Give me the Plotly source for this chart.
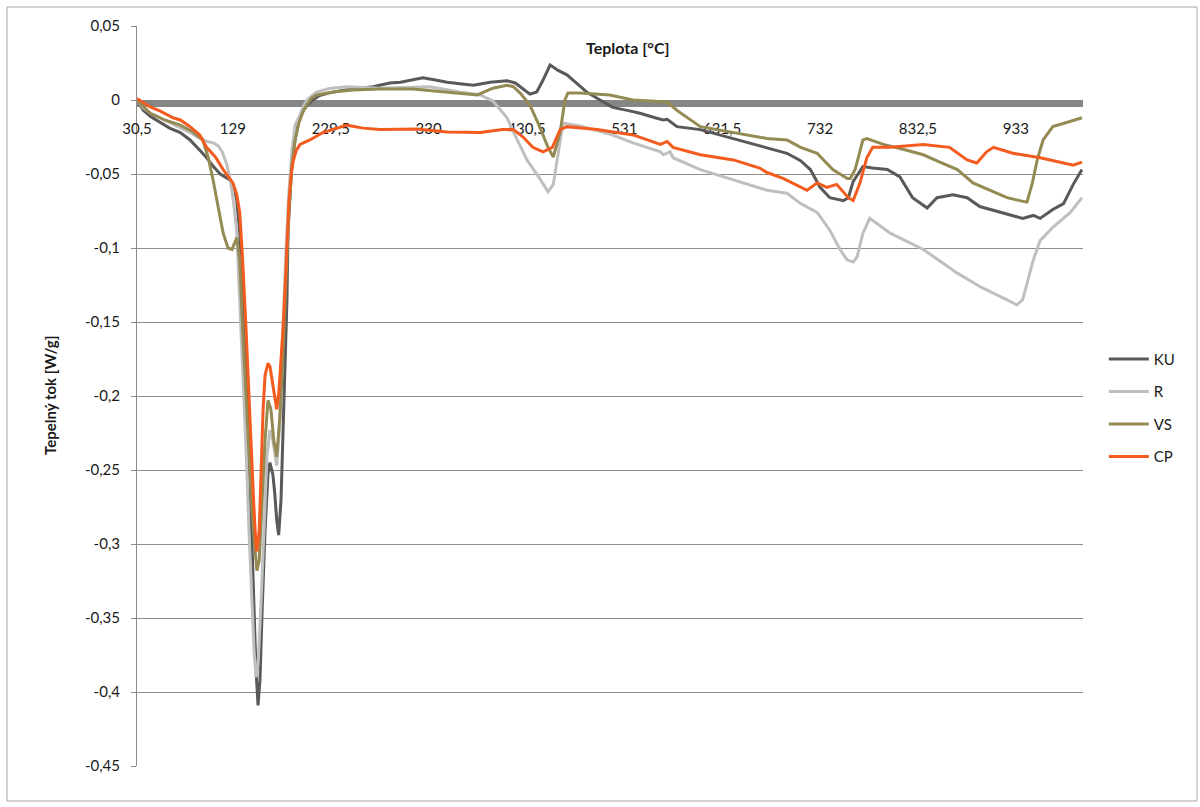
import plotly.graph_objects as go

# DSC curves: heat flow vs. temperature for four samples
ku_t = [30.5, 37, 44, 54, 64, 75, 85, 95, 102, 109, 116, 126, 131, 133, 136, 139, 142.5, 145.5,
        148.6, 150.7, 152.7, 154.8, 156.8, 158.9, 162, 165, 167, 170, 172, 174, 176, 178.4, 179.4,
        181.5, 182.5, 184.5, 185.6, 187.6, 189.7, 192.8, 196.9, 201, 206, 211, 218, 229, 246, 273,
        290, 301, 324, 337, 349, 362, 376, 393, 410.5, 419, 424, 434, 441, 447.5, 454.7, 463, 472,
        482, 493, 506, 519, 534, 547, 562.5, 571, 575, 585, 609, 643, 677.5, 698, 712, 722, 732,
        742, 756, 761, 766, 776, 786, 801, 814, 827, 842, 852, 868.5, 883, 896, 917, 930, 940, 951,
        958, 971, 982, 992, 1001]
ku_v = [0, -0.007, -0.011, -0.015, -0.019, -0.022, -0.027, -0.034, -0.039, -0.045, -0.050, -0.054,
        -0.061, -0.068, -0.090, -0.135, -0.182, -0.236, -0.297, -0.345, -0.385, -0.409, -0.392,
        -0.347, -0.291, -0.253, -0.245, -0.253, -0.266, -0.284, -0.294, -0.270, -0.245, -0.203,
        -0.178, -0.135, -0.088, -0.061, -0.041, -0.027, -0.0135, -0.007, -0.003, 0, 0.003, 0.005,
        0.007, 0.009, 0.0115, 0.012, 0.015, 0.0135, 0.012, 0.011, 0.010, 0.012, 0.013, 0.0115,
        0.009, 0.004, 0.0054, 0.0135, 0.0236, 0.020, 0.017, 0.011, 0.005, 0, -0.005, -0.007,
        -0.009, -0.012, -0.0135, -0.013, -0.018, -0.020, -0.026, -0.032, -0.036, -0.041, -0.047,
        -0.059, -0.066, -0.068, -0.066, -0.055, -0.045, -0.046, -0.047, -0.052, -0.066, -0.073,
        -0.066, -0.064, -0.066, -0.072, -0.076, -0.078, -0.080, -0.078, -0.080, -0.074, -0.070,
        -0.057, -0.047]

r_t = [30.5, 37, 44, 54, 64, 75, 85, 95, 102, 109, 114, 118, 123, 127, 130, 133, 136, 139, 142.5,
       145.5, 148.6, 150.7, 152.7, 154.8, 158, 161, 164, 167, 170, 174, 177.4, 180.4, 183.5,
       186.6, 189.7, 192.8, 198, 201, 205, 210, 215, 229, 246, 280, 331, 362, 383, 396, 410.5,
       421, 431, 444, 452.6, 458, 463, 468, 485.5, 516, 540, 568, 571, 578, 581, 609, 643, 677.5,
       698, 712, 729, 742, 752.5, 759.7, 766, 770, 776, 783, 804, 838, 873, 896, 924, 934, 940,
       951, 958, 971, 989, 1001]
r_v = [0, -0.0054, -0.0088, -0.012, -0.015, -0.019, -0.022, -0.026, -0.028, -0.029, -0.031, -0.035,
       -0.044, -0.057, -0.071, -0.090, -0.135, -0.182, -0.236, -0.291, -0.338, -0.372, -0.390,
       -0.382, -0.338, -0.284, -0.240, -0.223, -0.230, -0.247, -0.216, -0.155, -0.101, -0.061,
       -0.034, -0.017, -0.010, -0.0047, 0, 0.0027, 0.0054, 0.008, 0.009, 0.008, 0.009, 0.0054,
       0.0034, -0.0007, -0.012, -0.027, -0.0405, -0.053, -0.062, -0.057, -0.037, -0.0155,
       -0.0176, -0.023, -0.029, -0.035, -0.037, -0.035, -0.039, -0.047, -0.054, -0.061, -0.063,
       -0.070, -0.076, -0.088, -0.101, -0.108, -0.1095, -0.106, -0.090, -0.080, -0.090, -0.101,
       -0.117, -0.126, -0.135, -0.1385, -0.135, -0.108, -0.095, -0.086, -0.076, -0.066]

vs_t = [30.5, 37, 44, 51, 59, 75, 88, 98, 103.5, 108.6, 114, 119, 124, 128, 133, 136, 139, 142.5,
        145.5, 148.6, 151.7, 153.7, 156, 159, 162, 165, 168, 171, 174, 177, 180, 183.5, 186.6,
        189.7, 192.8, 197, 201, 205, 210, 215, 232, 252, 280, 314, 349, 380, 396, 410.5, 417, 424,
        434, 444, 452.6, 458, 465, 470, 473, 485.5, 516, 540, 575, 585, 609, 643, 677.5, 698, 712,
        729, 745, 760, 763, 768, 776, 780, 797, 821, 838, 855, 873, 889, 907, 924, 937, 944.5, 950,
        955, 961, 971, 986, 1001]
vs_v = [0, -0.004, -0.009, -0.011, -0.0135, -0.017, -0.0216, -0.027, -0.0385, -0.054, -0.072,
        -0.090, -0.100, -0.101, -0.093, -0.108, -0.155, -0.203, -0.243, -0.277, -0.304, -0.318,
        -0.311, -0.270, -0.230, -0.203, -0.209, -0.230, -0.241, -0.216, -0.178, -0.122, -0.074,
        -0.044, -0.027, -0.015, -0.008, -0.003, 0.0014, 0.0034, 0.0054, 0.0068, 0.0074, 0.0074,
        0.0054, 0.0034, 0.008, 0.010, 0.009, 0.0047, -0.0034, -0.018, -0.032, -0.0385, -0.022, 0,
        0.0047, 0.0047, 0.0034, 0, -0.0014, -0.007, -0.018, -0.022, -0.026, -0.027, -0.032,
        -0.036, -0.047, -0.053, -0.053, -0.047, -0.027, -0.026, -0.030, -0.034, -0.037, -0.042,
        -0.047, -0.056, -0.061, -0.066, -0.068, -0.069, -0.056, -0.0405, -0.027, -0.018, -0.015,
        -0.012]

cp_t = [30.5, 37, 44, 54, 67.5, 75, 85, 95, 102, 111, 119, 129, 133, 136, 139, 142.5, 145.5, 148.6,
        150.7, 152.7, 153.7, 156, 158, 160, 162, 165, 167, 169, 172, 174, 176, 178.4, 180.4, 182.5,
        184.5, 186.6, 188.7, 190.7, 194, 198, 208, 221.5, 246, 262.6, 280, 318, 349, 383, 406, 417,
        427, 437, 447.5, 457, 465, 472, 503, 540, 568, 575, 581, 609, 643, 670, 677.5, 694, 718.6,
        729, 739, 749, 761, 766, 773, 780, 786, 804, 838, 865, 883, 893, 903, 910, 930, 958, 982,
        992, 1001]
cp_v = [0.001, -0.002, -0.0047, -0.0074, -0.012, -0.0135, -0.018, -0.0236, -0.032, -0.0385, -0.047,
        -0.056, -0.064, -0.076, -0.108, -0.155, -0.203, -0.243, -0.277, -0.301, -0.305, -0.291,
        -0.250, -0.209, -0.186, -0.178, -0.180, -0.189, -0.203, -0.209, -0.199, -0.176, -0.155,
        -0.128, -0.095, -0.068, -0.051, -0.042, -0.034, -0.030, -0.027, -0.022, -0.017, -0.019,
        -0.020, -0.0196, -0.0216, -0.022, -0.020, -0.020, -0.025, -0.032, -0.035, -0.032, -0.020,
        -0.018, -0.020, -0.0236, -0.030, -0.028, -0.032, -0.037, -0.0405, -0.046, -0.049, -0.053,
        -0.061, -0.056, -0.059, -0.057, -0.066, -0.068, -0.056, -0.039, -0.032, -0.032, -0.030,
        -0.032, -0.0405, -0.0426, -0.035, -0.032, -0.036, -0.039, -0.0426, -0.044, -0.042]

series = [
    ("KU", ku_t, ku_v, "#595959"),
    ("R", r_t, r_v, "#bfbfbf"),
    ("VS", vs_t, vs_v, "#948a54"),
    ("CP", cp_t, cp_v, "#f45b1f"),
]

x_tick_vals = [30.5, 129, 229.5, 330, 430.5, 531, 631.5, 732, 832.5, 933]
x_tick_text = ["30,5", "129", "229,5", "330", "430,5", "531", "631,5", "732", "832,5", "933"]
y_tick_vals = [0.05, 0, -0.05, -0.1, -0.15, -0.2, -0.25, -0.3, -0.35, -0.4, -0.45]
y_tick_text = ["0,05", "0", "-0,05", "-0,1", "-0,15", "-0,2", "-0,25", "-0,3", "-0,35", "-0,4", "-0,45"]

FONT = "Lato, Open Sans, sans-serif"
TEXT = "#1a1a1a"

fig = go.Figure()
for name, t, v, color in series:
    fig.add_trace(go.Scatter(
        x=t, y=v, name=name, mode="lines", legendgroup=name,
        line=dict(color=color, width=3),
    ))

y_min, y_max = -0.45, 0.05
plot_h = 740  # plot-area height in px, used to nudge the thick category axis below zero
fig.update_layout(
    width=1200, height=807,
    margin=dict(l=137, r=117, t=26, b=41),
    paper_bgcolor="white", plot_bgcolor="white",
    font=dict(family=FONT, size=15, color=TEXT),
    showlegend=True,
    legend=dict(
        x=1.022, y=0.484, xanchor="left", yanchor="middle",
        font=dict(family=FONT, size=15, color=TEXT),
        tracegroupgap=10, itemwidth=40,
        bgcolor="rgba(0,0,0,0)",
    ),
    xaxis=dict(
        range=[30.5, 1002], anchor="free",
        position=(0 - y_min) / (y_max - y_min) - 2.5 / plot_h,
        tickvals=x_tick_vals, ticktext=x_tick_text,
        showgrid=False, zeroline=False,
        showline=True, linecolor="#868686", linewidth=7,
        ticks="", ticklabelstandoff=9,
        tickfont=dict(family=FONT, size=15, color=TEXT),
        layer="below traces",
    ),
    yaxis=dict(
        range=[y_min, y_max],
        tickvals=y_tick_vals, ticktext=y_tick_text,
        showgrid=True, gridcolor="#8c8c8c", gridwidth=1,
        zeroline=False,
        showline=True, linecolor="#8c8c8c", linewidth=1,
        ticks="outside", ticklen=5, tickcolor="#8c8c8c",
        ticklabelstandoff=8,
        tickfont=dict(family=FONT, size=15, color=TEXT),
        layer="below traces",
    ),
    annotations=[
        dict(text="<b>Teplota [°C]</b>", xref="paper", yref="paper",
             x=(628 - 137) / 946, y=(766 - 47) / 740, showarrow=False,
             xanchor="center", yanchor="middle",
             font=dict(family=FONT, size=16, color=TEXT)),
        dict(text="<b>Tepelný tok [W/g]</b>", xref="paper", yref="paper",
             x=(50 - 137) / 946, y=0.5, showarrow=False, textangle=-90,
             xanchor="center", yanchor="middle",
             font=dict(family=FONT, size=15, color=TEXT)),
    ],
    shapes=[
        dict(type="rect", xref="paper", yref="paper",
             x0=(7 - 137) / 946, x1=(1197 - 137) / 946,
             y0=(766 - 801) / 740, y1=(766 - 7) / 740,
             line=dict(color="#a6a6a6", width=1), fillcolor="rgba(0,0,0,0)", layer="below"),
    ],
)

fig.write_html("out.html")
